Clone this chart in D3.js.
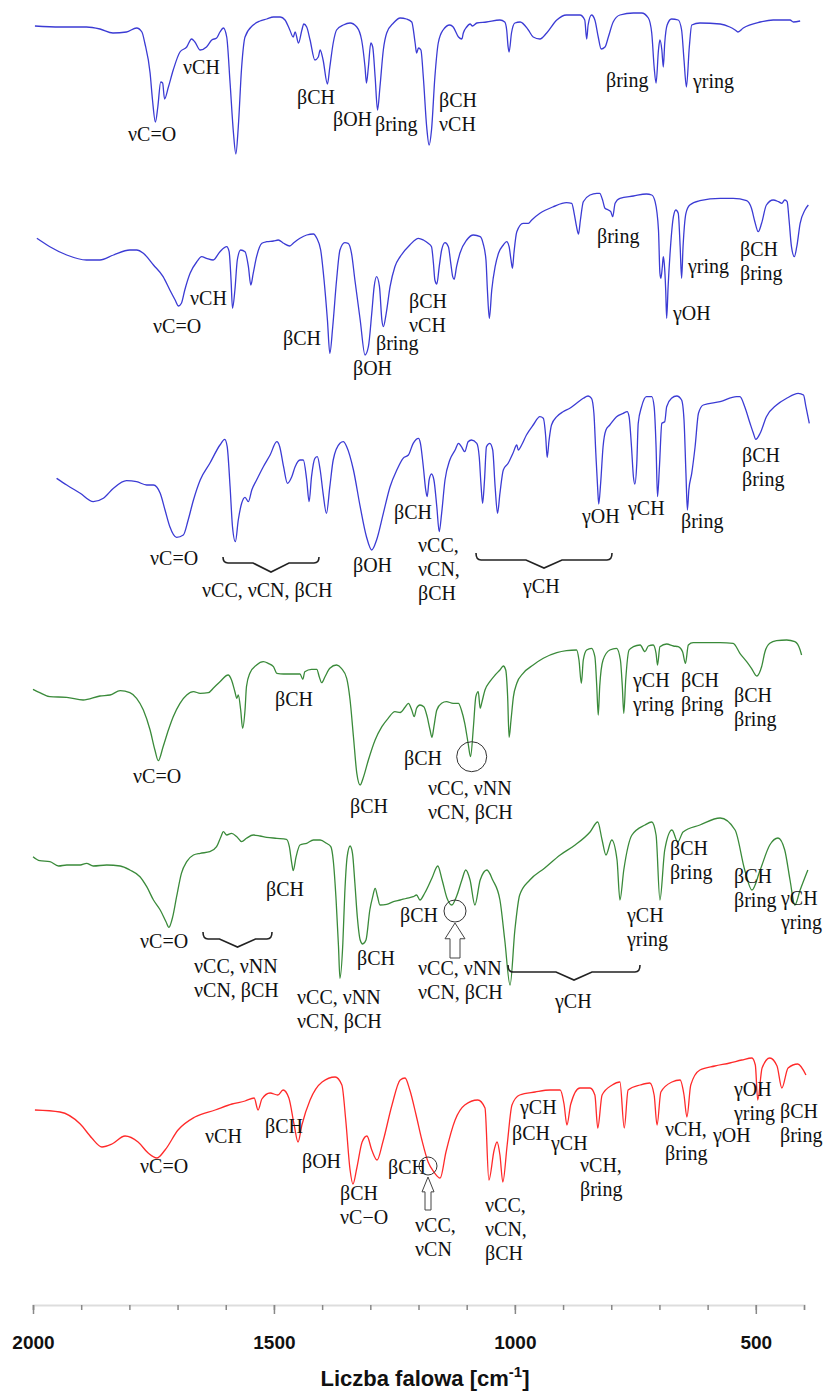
<!DOCTYPE html>
<html>
<head>
<meta charset="utf-8">
<script src="https://cdn.jsdelivr.net/npm/d3@7"></script>
<style>
  body { margin: 0; background: #fff; }
  .lbl { font-family: "Liberation Serif", "Times New Roman", serif; font-size: 20px; fill: #111; }
  .tick-lbl { font-family: "Liberation Sans", Arial, sans-serif; font-weight: bold; }
</style>
</head>
<body>
<div id="chart"></div>
<script>
// IR spectra, wavenumber [cm-1] vs relative transmittance (arbitrary units per trace)
const wavenumberTicks = [2000, 1900, 1800, 1700, 1600, 1500, 1400, 1300, 1200, 1100, 1000, 900, 800, 700, 600, 500, 400]
const majorTicks = [2000, 1500, 1000, 500]

const spectrum1 = [[1996,134],[1944,133],[1889,133],[1861,131],[1834,127],[1806,128],[1785,132],[1774,128],[1768,117],[1757,87],[1752,60],[1746,38],[1741,53],[1735,78],[1731,77],[1727,61],[1719,73],[1709,90],[1695,108],[1681,113],[1671,121],[1664,118],[1653,110],[1640,113],[1629,120],[1619,122],[1612,128],[1605,132],[1598,123],[1591,77],[1584,27],[1579,6],[1574,33],[1567,93],[1560,123],[1543,135],[1529,139],[1515,141],[1501,143],[1487,143],[1477,140],[1467,130],[1460,123],[1456,128],[1449,117],[1442,130],[1438,136],[1432,133],[1425,120],[1415,100],[1408,103],[1404,110],[1398,100],[1389,76],[1384,93],[1377,117],[1370,130],[1356,135],[1342,137],[1328,133],[1318,120],[1311,93],[1308,77],[1304,93],[1299,117],[1295,113],[1290,83],[1285,50],[1280,73],[1273,110],[1266,127],[1252,137],[1238,142],[1225,141],[1214,138],[1207,117],[1204,107],[1200,112],[1195,110],[1190,83],[1183,33],[1178,15],[1173,30],[1166,83],[1159,117],[1149,130],[1135,135],[1128,133],[1117,123],[1110,121],[1107,127],[1100,133],[1093,136],[1088,134],[1079,137],[1059,138],[1031,140],[1021,138],[1017,130],[1014,113],[1012,108],[1007,127],[1000,137],[989,138],[972,130],[962,123],[948,121],[934,127],[913,140],[893,145],[865,145],[855,140],[851,121],[848,135],[841,145],[834,140],[827,123],[821,111],[813,113],[806,123],[796,138],[782,145],[754,147],[737,147],[723,142],[716,127],[711,93],[707,77],[702,110],[699,120],[695,110],[692,93],[689,117],[684,135],[675,141],[661,140],[654,130],[649,100],[644,73],[638,113],[633,135],[616,137],[574,136],[554,133],[543,130],[537,128],[526,132],[491,138],[464,140],[429,140],[422,138],[408,139]]

const spectrum2 = [[1992,121.7],[1965,113.3],[1930,105],[1889,100],[1861,100],[1833,105],[1799,110],[1785,110],[1771,106.7],[1750,95],[1730,83.3],[1716,70],[1705,60],[1698,54],[1692,56.7],[1685,70],[1674,86.7],[1660,98.3],[1650,103.3],[1640,101.7],[1626,100],[1612,108.3],[1598,113.3],[1593,108.3],[1589,80],[1586,51.7],[1581,70],[1576,100],[1569,110],[1560,108.3],[1553,93.3],[1548,75],[1543,86.7],[1536,103.3],[1525,116.7],[1515,118.3],[1501,119],[1491,120],[1480,116.7],[1467,114],[1460,116.7],[1446,121.7],[1432,125],[1418,126],[1411,121.7],[1403,110],[1396,80],[1389,40],[1384,6.7],[1378,33.3],[1370,80],[1363,110],[1353,117.3],[1346,116.7],[1339,106.7],[1332,80],[1321,40],[1311,5],[1304,13.3],[1297,46.7],[1292,73.3],[1287,83.3],[1281,73.3],[1276,40],[1273,33.3],[1267,46.7],[1259,73.3],[1249,93.3],[1238,103.3],[1218,115],[1200,121.7],[1190,120],[1180,116.7],[1173,113.3],[1169,96.7],[1166,80],[1162,76],[1157,93.3],[1152,110],[1145,117.3],[1138,113.3],[1133,96.7],[1129,83.3],[1126,80.7],[1121,93.3],[1114,106.7],[1100,120],[1086,125],[1072,123.3],[1066,116.7],[1060,100],[1057,70],[1053,41.7],[1048,70],[1041,93.3],[1034,106.7],[1024,115],[1017,118.3],[1012,113.3],[1008,100],[1005,91.7],[1002,106.7],[996,128.3],[983,136.7],[972,136.7],[965,140],[948,146.7],[920,153.3],[893,157.3],[882,156.7],[877,146.7],[872,133.3],[868,126],[864,140],[858,158.3],[844,165],[830,166.7],[824,166.7],[818,160],[813,151.7],[806,150],[801,148.3],[797,143.3],[792,156.7],[782,161.7],[754,164],[727,166],[716,165],[709,158.3],[702,130],[699,86.7],[697,81.7],[694,93.3],[692,103.3],[690,96.7],[687,70],[685,41.7],[682,73.3],[677,113.3],[671,143.3],[666,150],[661,146.7],[657,113.3],[654,81.7],[651,113.3],[645,146.7],[637,155],[616,159.3],[574,161.7],[547,161.7],[519,159.3],[509,151.7],[502,138.3],[495,128.3],[488,136.7],[478,155],[464,160],[453,158.3],[446,156.7],[440,160],[435,158.3],[431,140],[426,113.3],[420,103.3],[415,113.3],[408,136.7],[398,150],[391,155]]

const spectrum3 = [[1951,81.7],[1930,75],[1902,66.7],[1875,58.3],[1854,61.7],[1833,71.7],[1806,79.3],[1785,78.3],[1764,75],[1750,75],[1736,66.7],[1726,50],[1716,33.3],[1702,22.7],[1688,25],[1678,40],[1667,60],[1653,80],[1633,96.7],[1612,115],[1602,120.7],[1597,113.3],[1591,73.3],[1586,33.3],[1580,18.3],[1574,40],[1567,56.7],[1560,62.7],[1553,58.3],[1546,70],[1536,80],[1522,93.3],[1508,105],[1494,118.3],[1488,113.3],[1480,93.3],[1472,76.7],[1463,83.3],[1456,93.3],[1446,100],[1439,100],[1432,80],[1427,58.3],[1422,83.3],[1415,101.7],[1410,103.3],[1404,90],[1398,66.7],[1391,46.7],[1384,73.3],[1377,100],[1363,116.7],[1356,118.3],[1349,113.3],[1335,90],[1321,53.3],[1308,23.3],[1297,10],[1287,20],[1273,46.7],[1259,73.3],[1245,90],[1232,101.7],[1221,105],[1211,116.7],[1200,121.7],[1196,116.7],[1190,93.3],[1185,70],[1182,63.3],[1178,80],[1173,86],[1168,80],[1162,53.3],[1157,28.3],[1152,46.7],[1145,80],[1135,100],[1124,110],[1117,116.7],[1111,113.3],[1104,108.3],[1097,118.3],[1090,120],[1079,116.7],[1074,103.3],[1070,73.3],[1067,56.7],[1063,80],[1059,113.3],[1052,116.7],[1046,110],[1041,73.3],[1036,46.7],[1031,66.7],[1024,90],[1014,96.7],[1004,106.7],[996,115],[993,110],[986,115],[976,125],[962,135],[948,143.3],[941,141.7],[936,123.3],[933,102.7],[929,120],[924,135],[913,143.3],[900,148.3],[886,151.7],[872,156.7],[858,161.7],[848,164],[841,161.7],[836,146.7],[832,106.7],[828,70],[826,56],[822,76.7],[817,113.3],[811,130],[803,135],[789,143.3],[775,146.7],[767,148.3],[763,143.3],[758,113.3],[754,83.3],[751,76],[747,96.7],[744,136.7],[737,153.3],[727,163.3],[716,163.3],[711,153.3],[707,113.3],[704,63.3],[700,93.3],[695,136.7],[689,138.3],[685,153.3],[675,161.7],[664,164],[654,160],[649,140],[645,86.7],[642,50],[639,70],[633,86.7],[626,113.3],[619,146.7],[609,155],[574,158.3],[540,163.3],[533,163.3],[523,153.3],[512,136.7],[505,126.7],[500,120.7],[491,126.7],[478,143.3],[457,155],[436,161.7],[412,166.7],[401,165],[396,153.3],[389,136.7]]

const spectrum4 = [[2000,100.7],[1986,97.3],[1965,93.3],[1930,92.7],[1896,90],[1861,94],[1840,95],[1819,99.3],[1799,97.3],[1785,91.7],[1771,80],[1757,60],[1747,40],[1740,29.3],[1730,43.3],[1719,60],[1709,73.3],[1695,86.7],[1681,95],[1667,98.3],[1653,96.7],[1636,97.3],[1626,101.7],[1612,108.3],[1595,115],[1588,110],[1581,98.3],[1577,91.7],[1574,95],[1569,80],[1565,61.7],[1560,80],[1557,103.3],[1550,116.7],[1536,125],[1522,128.3],[1512,126.7],[1501,123.3],[1494,116.7],[1480,116],[1460,116],[1446,116],[1440,110.7],[1436,118.3],[1422,120.7],[1411,120.7],[1406,113.3],[1401,107.3],[1394,113.3],[1384,121.7],[1370,125],[1360,121.7],[1349,111.7],[1342,90],[1335,53.3],[1328,16.7],[1321,5],[1315,11.7],[1304,30],[1290,50],[1276,63.3],[1263,71.7],[1249,78.3],[1238,77.5],[1228,82.7],[1221,86.7],[1214,80],[1209,73.3],[1204,81.7],[1197,85],[1189,83.3],[1182,73.3],[1176,60],[1172,52.7],[1168,63.3],[1162,80],[1152,86.7],[1142,88.3],[1128,86.7],[1117,86.7],[1111,80],[1104,66.7],[1097,46.7],[1092,33.3],[1086,63.3],[1081,93.3],[1076,98.3],[1072,81.7],[1069,86.7],[1062,100],[1052,108.3],[1041,115],[1031,120],[1024,124],[1019,120],[1015,93.3],[1012,52.7],[1008,70],[1003,93.3],[996,106.7],[983,116.7],[962,125],[941,131.7],[913,137.3],[893,139.3],[872,140],[867,130],[862,106.7],[858,130],[851,140],[841,141.7],[834,133.3],[830,103.3],[827,75],[824,103.3],[817,130],[803,140],[789,141.7],[781,130],[777,103.3],[774,76.7],[770,110],[763,140],[754,143.3],[740,145],[730,138.3],[723,144],[713,145],[707,136.7],[704,125],[699,143.3],[685,146],[671,144],[661,143.3],[652,138.3],[646,126.7],[640,145],[630,147.3],[602,147.3],[574,147.3],[547,146.7],[533,136.7],[519,128.3],[509,121.7],[498,114],[488,123.3],[481,138.3],[471,146.7],[457,149.3],[436,150],[419,148.3],[408,140],[405,135]]

const spectrum5 = [[2000,128.3],[1986,124.3],[1965,123.3],[1947,119],[1930,120],[1902,120],[1889,121.7],[1875,119],[1847,120],[1819,119],[1799,115],[1778,108.3],[1764,98.3],[1750,85],[1736,75],[1724,63.3],[1718,57.7],[1710,68.3],[1702,88.3],[1692,111.7],[1681,123.3],[1667,130],[1653,131.7],[1633,133.3],[1619,138.3],[1610,148.3],[1605,153.3],[1598,150],[1588,151.7],[1577,148.3],[1567,143.3],[1557,146.7],[1543,150],[1529,149],[1515,147.7],[1494,146.7],[1474,145.7],[1468,138.3],[1463,121.7],[1460,114.3],[1454,128.3],[1446,140],[1432,141.7],[1418,145],[1404,145],[1391,141.7],[1382,138.3],[1377,125],[1371,85],[1366,38.3],[1363,6.7],[1357,41.7],[1353,91.7],[1348,128.3],[1342,139],[1337,131.7],[1332,101.7],[1327,68.3],[1321,45],[1316,41],[1309,45],[1301,75],[1295,88.3],[1290,96.7],[1285,88.3],[1280,80],[1266,80.7],[1252,83.3],[1238,85],[1225,86.7],[1211,88.3],[1204,90],[1197,85],[1187,92],[1172,107],[1160,119],[1151,105],[1141,87],[1131,80],[1120,90],[1110,105],[1102,115],[1093,105],[1083,80],[1072,105],[1058,115],[1046,105],[1031,85],[1021,45],[1010,0],[1000,55],[990,90],[969,105],[938,117],[906,130],[875,140],[844,153],[828,163],[819,145],[811,130],[799,145],[788,125],[782,85],[774,115],[757,150],[730,160],[716,163],[707,150],[699,85],[689,135],[674,155],[662,143],[651,153],[616,160],[574,167],[543,155],[523,115],[508,95],[491,115],[471,140],[454,147],[440,135],[429,105],[419,80],[408,95],[392,115]]

const spectrum6 = [[1996,115],[1944,113],[1902,101],[1878,87],[1857,78],[1836,81],[1809,89],[1782,83],[1761,72],[1743,67],[1726,75],[1699,95],[1664,108],[1622,115],[1587,121],[1560,124],[1541,127],[1533,115],[1525,126],[1508,132],[1492,130],[1481,135],[1469,127],[1458,100],[1450,83],[1442,100],[1425,125],[1400,143],[1373,148],[1359,140],[1351,105],[1342,55],[1336,41],[1328,57],[1317,83],[1307,89],[1297,75],[1286,65],[1274,83],[1255,120],[1238,145],[1228,147],[1218,135],[1205,110],[1193,85],[1180,63],[1168,53],[1155,47],[1143,73],[1124,105],[1104,120],[1077,125],[1062,117],[1054,45],[1043,75],[1037,83],[1031,70],[1025,43],[1016,80],[1006,120],[990,130],[958,133],[927,135],[906,135],[898,121],[892,100],[884,121],[865,137],[844,137],[834,130],[828,97],[819,130],[798,140],[782,143],[773,97],[765,135],[740,140],[720,142],[711,130],[705,100],[697,133],[674,143],[657,145],[649,130],[643,108],[635,140],[616,155],[585,159],[554,162],[529,165],[508,167],[501,160],[496,125],[487,157],[471,167],[456,159],[446,137],[433,157],[413,161],[396,150]]

const spectra = [
  { data: spectrum1, color: '#3b3bd4', base: 160 },
  { data: spectrum2, color: '#3b3bd4', base: 360 },
  { data: spectrum3, color: '#3b3bd4', base: 560 },
  { data: spectrum4, color: '#3a8a3a', base: 790 },
  { data: spectrum5, color: '#3a8a3a', base: 985 },
  { data: spectrum6, color: '#ff2a2a', base: 1225 }
]

// band assignments: [text lines, left x, first baseline]
const labels = [
  [['νC=O'], 128, 141], [['νCH'], 183, 74], [['βCH'], 297, 104], [['βOH'], 333, 126], [['βring'], 375, 131],
  [['βCH', 'νCH'], 439, 107], [['βring'], 606, 87], [['γring'], 693, 88],

  [['νCH'], 190, 305], [['νC=O'], 153, 333], [['βCH'], 283, 345], [['βOH'], 353, 375], [['βring'], 376, 350],
  [['βCH', 'νCH'], 409, 308], [['βring'], 597, 243], [['γOH'], 673, 320], [['γring'], 688, 273],
  [['βCH', 'βring'], 740, 256],

  [['νC=O'], 150, 565], [['νCC, νCN, βCH'], 202, 597], [['βOH'], 353, 572], [['βCH'], 394, 519],
  [['νCC,', 'νCN,', 'βCH'], 418, 552], [['γCH'], 523, 593], [['γOH'], 582, 523], [['γCH'], 628, 515],
  [['βring'], 681, 528], [['βCH', 'βring'], 742, 462],

  [['νC=O'], 133, 783], [['βCH'], 275, 706], [['βCH'], 350, 813], [['βCH'], 404, 765],
  [['νCC, νNN', 'νCN, βCH'], 428, 795], [['γCH', 'γring'], 633, 687], [['βCH', 'βring'], 681, 687],
  [['βCH', 'βring'], 734, 702],

  [['βCH'], 266, 896], [['νC=O'], 140, 948], [['νCC, νNN', 'νCN, βCH'], 194, 973], [['βCH'], 357, 965],
  [['νCC, νNN', 'νCN, βCH'], 297, 1004], [['βCH'], 400, 922], [['νCC, νNN', 'νCN, βCH'], 418, 975],
  [['γCH'], 555, 1008], [['γCH', 'γring'], 627, 922], [['βCH', 'βring'], 670, 855],
  [['βCH', 'βring'], 734, 883], [['γCH', 'γring'], 781, 905],

  [['νC=O'], 140, 1173], [['νCH'], 205, 1143], [['βCH'], 265, 1133], [['βOH'], 302, 1168],
  [['βCH', 'νC−O'], 340, 1200], [['βCH'], 388, 1174], [['νCC,', 'νCN'], 415, 1232],
  [['νCC,', 'νCN,', 'βCH'], 485, 1212], [['γCH'], 520, 1114], [['βCH'], 512, 1140], [['γCH'], 551, 1150],
  [['νCH,', 'βring'], 580, 1172], [['νCH,', 'βring'], 665, 1136], [['γOH'], 713, 1142],
  [['γOH', 'γring'], 734, 1096], [['βCH', 'βring'], 780, 1118]
]

// braces: [x1, x2, end y, line y, tip y]
const braces = [[223, 319, 557, 563, 572], [476, 612, 553, 560, 568], [203, 272, 932, 939, 947], [508, 640, 965, 972, 980]]
// circles: [cx, cy, r]
const circles = [[471.7, 756.7, 15], [455, 911, 11], [428, 1166, 9]]
// hollow arrows: [x, tip y, bottom y, half width]
const arrows = [[455, 923, 958, 10], [428, 1177, 1210, 6]]

const dimensions = { width: 826, height: 1394, axisY: 1305 }

const svg = d3.select('#chart').append('svg')
    .attr('width', dimensions.width)
    .attr('height', dimensions.height)

const xScale = d3.scaleLinear().domain([2000, 400]).range([33, 804])

spectra.forEach(s => {
    const yScale = d3.scaleLinear().domain([0, 200]).range([s.base, s.base - 200])
    const line = d3.line()
        .x(d => xScale(d[0]))
        .y(d => yScale(d[1]))
        .curve(d3.curveMonotoneX)
    svg.append('path')
        .datum(s.data)
        .attr('d', line)
        .attr('fill', 'none')
        .attr('stroke', s.color)
        .attr('stroke-width', 1.3)
})

// Labels
labels.forEach(l => {
    const t = svg.append('text').attr('class', 'lbl').attr('x', l[1]).attr('y', l[2])
    l[0].forEach((line, i) => {
        t.append('tspan').attr('x', l[1]).attr('dy', i === 0 ? 0 : 24).text(line)
    })
})

braces.forEach(b => {
    const mid = (b[0] + b[1]) / 2
    svg.append('path')
        .attr('d', `M${b[0]},${b[2]} Q${b[0]},${b[3]} ${b[0] + 5},${b[3]} L${mid - 18},${b[3]} L${mid},${b[4]} L${mid + 18},${b[3]} L${b[1] - 5},${b[3]} Q${b[1]},${b[3]} ${b[1]},${b[2]}`)
        .attr('fill', 'none')
        .attr('stroke', '#222')
        .attr('stroke-width', 1.6)
})

circles.forEach(c => {
    svg.append('circle').attr('cx', c[0]).attr('cy', c[1]).attr('r', c[2])
        .attr('fill', 'none').attr('stroke', '#333').attr('stroke-width', 1)
})

arrows.forEach(a => {
    const [x, top, bot, hw] = a
    const headH = (bot - top) * 0.45
    const sw = hw * 0.5
    svg.append('path')
        .attr('d', `M${x},${top} L${x + hw},${top + headH} L${x + sw},${top + headH} L${x + sw},${bot} L${x - sw},${bot} L${x - sw},${top + headH} L${x - hw},${top + headH} Z`)
        .attr('fill', '#fff').attr('stroke', '#444').attr('stroke-width', 1)
})

// X Axis
const minorAxis = d3.axisBottom(xScale).tickValues(wavenumberTicks).tickSize(5).tickFormat('')
const majorAxis = d3.axisBottom(xScale).tickValues(majorTicks).tickSize(9).tickPadding(22).tickFormat(d3.format('d'))

const gMinor = svg.append('g').attr('transform', `translate(0, ${dimensions.axisY})`).call(minorAxis)
const gMajor = svg.append('g').attr('transform', `translate(0, ${dimensions.axisY})`).call(majorAxis)
gMinor.select('.domain').attr('stroke', '#ddd').attr('stroke-width', 2)
gMajor.select('.domain').remove()
svg.selectAll('.tick line').attr('stroke', '#888').attr('stroke-width', 1.5)
gMajor.selectAll('text')
    .attr('class', 'tick-lbl')
    .attr('font-size', '19px')
    .attr('fill', '#111')

const title = svg.append('text')
    .attr('x', 425)
    .attr('y', 1386)
    .attr('text-anchor', 'middle')
    .attr('class', 'tick-lbl')
    .attr('font-size', '22px')
    .attr('fill', '#111')
title.append('tspan').text('Liczba falowa [cm')
title.append('tspan').attr('font-size', '15px').attr('dy', -9).text('-1')
title.append('tspan').attr('dy', 9).text(']')
</script>
</body>
</html>
